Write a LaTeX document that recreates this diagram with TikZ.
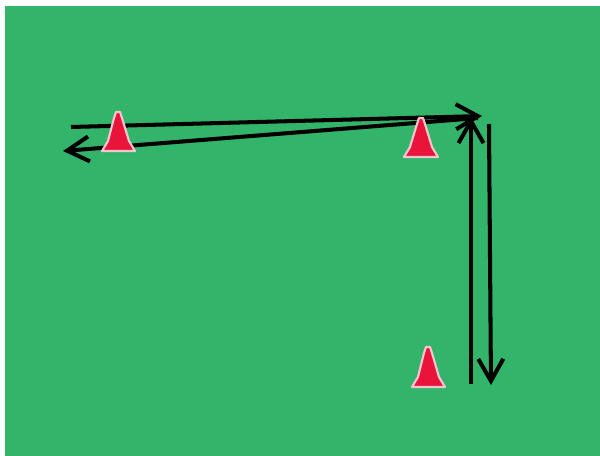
\documentclass[tikz,border=0pt]{standalone}
\usepackage{xcolor}
\usetikzlibrary{arrows.meta}
\definecolor{pitch}{RGB}{50,181,106}
\definecolor{conered}{RGB}{232,20,58}
\begin{document}
\begin{tikzpicture}[
  x=0.02cm,y=-0.02cm,
  run/.style={-{Straight Barb[length=0.44cm,width=0.5cm,line width=2.3pt]},line width=2.3pt,black},
  cone/.style={draw=white!75!conered,fill=conered,line width=1.2pt,line join=round}
]
\useasboundingbox (0,0) rectangle (600,456);
\fill[pitch] (5,6) rectangle (600,456);

% run
\coordinate (start) at (71,127);
\coordinate (turn) at (482,116);
\coordinate (back) at (478,118);
\coordinate (far) at (63,151);
\coordinate (low) at (471,384);
\coordinate (up) at (471,117);
\coordinate (top) at (489,124);
\coordinate (down) at (491,385);

\draw[run] (start) -- (turn);
\draw[run] (back) -- (far);
\draw[run] (low) -- (up);
\draw[run] (top) -- (down);

% cones
\draw[cone] (116,112) -- (120,112) -- (122,118) -- (129,141) -- (135,151) -- (102,151) -- (108,141) -- (114,118) -- cycle;
\draw[cone] (419,118) -- (423,118) -- (425,124) -- (432,147) -- (438,157) -- (404,157) -- (410,147) -- (417,124) -- cycle;
\draw[cone] (426,347) -- (430,347) -- (432,353) -- (439,377) -- (445,387) -- (412,387) -- (418,377) -- (424,353) -- cycle;
\end{tikzpicture}
\end{document}
